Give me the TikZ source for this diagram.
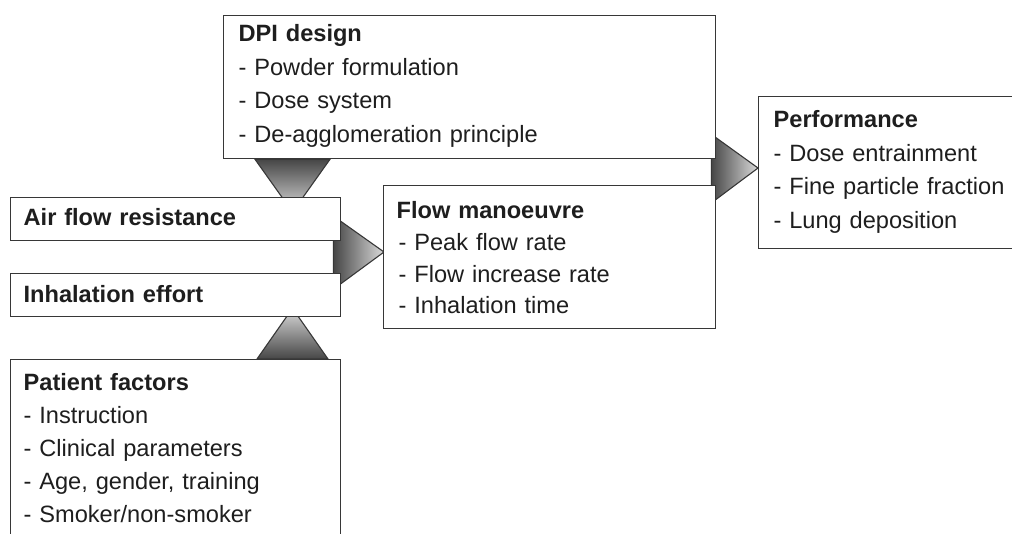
\documentclass[tikz,border=0pt]{standalone}
\usepackage{fontspec}
\setmainfont{Liberation Sans}
\usetikzlibrary{backgrounds, calc}
\definecolor{boxline}{RGB}{55,55,55}
\definecolor{inkgray}{RGB}{30,30,30}
\definecolor{funneldark}{RGB}{70,70,70}
\definecolor{funnellight}{RGB}{218,218,218}
\tikzset{
    % white text panel, outlined, text hung from its top left corner
    panel/.style={draw=boxline, line width=0.65pt, fill=white, anchor=north west,
        align=left, inner xsep=6.5pt, inner ysep=0pt, text=inkgray},
    % shaded triangle, dark at its base and light at its tip
    funnel/.style={draw=boxline, line width=0.55pt},
}
\newcommand{\panelfont}[1]{\fontsize{11.8pt}{#1}\selectfont}

\begin{document}
\begin{tikzpicture}[x=0.5pt, y=-0.5pt]
    \useasboundingbox (0,0) rectangle (1012,534);
    \clip (0,0) rectangle (1012,534);

    % ===== panels =====
    \node[panel, inner xsep=7.5pt, text width=231pt, text height=13pt, text depth=58.5pt,
          font=\panelfont{16.75pt}] (dpi) at (223,15)
        {\textbf{DPI design}\\- Powder formulation\\- Dose system\\- De-agglomeration principle};

    \node[panel, text width=152pt, text height=14pt, text depth=7.5pt,
          font=\panelfont{16pt}] (air) at (10,197) {\textbf{Air flow resistance}};
    \node[panel, text width=152pt, text height=14.5pt, text depth=7pt,
          font=\panelfont{16pt}] (inhal) at (10,273) {\textbf{Inhalation effort}};

    \node[panel, text width=153pt, text height=16.5pt, text depth=55pt,
          font=\panelfont{15.85pt}] (flow) at (383,185)
        {\textbf{Flow manoeuvre}\\\hspace*{1pt}- Peak flow rate\\\hspace*{1pt}- Flow increase rate\\\hspace*{1pt}- Inhalation time};

    \node[panel, inner xsep=7.5pt, text width=121pt, text height=15.5pt, text depth=60.5pt,
          font=\panelfont{16.8pt}] (perf) at (758,96)
        {\textbf{Performance}\\- Dose entrainment\\- Fine particle fraction\\- Lung deposition};

    \node[panel, text width=152pt, text height=15.5pt, text depth=85pt,
          font=\panelfont{16.5pt}] (patient) at (10,359)
        {\textbf{Patient factors}\\- Instruction\\- Clinical parameters\\- Age, gender, training\\- Smoker/non-smoker};

    % ===== funnels (behind the panels) =====
    \begin{scope}[on background layer]
        % DPI design -> air flow resistance
        \draw[funnel, top color=funneldark, bottom color=funnellight]
            ($(dpi.south west)+(32,0)$) -- ($(dpi.south west)+(107,0)$)
            -- ($(air.north west)+(282.5,15)$) -- cycle;
        % air flow resistance / inhalation effort -> flow manoeuvre
        \draw[funnel, left color=funneldark, right color=funnellight]
            ($(air.north east)+(-8,19)$) -- ($(inhal.south east)+(-8,-28)$)
            -- ($(flow.north west)+(1,67)$) -- cycle;
        % patient factors -> inhalation effort
        \draw[funnel, bottom color=funneldark, top color=funnellight]
            ($(patient.north west)+(247,0)$) -- ($(patient.north west)+(318,0)$)
            -- ($(inhal.south west)+(282.5,-9)$) -- cycle;
        % DPI design / flow manoeuvre -> performance
        \draw[funnel, left color=funneldark, right color=funnellight]
            ($(dpi.south east)+(-5,-25)$) -- ($(flow.north east)+(-5,18)$)
            -- ($(perf.north west)+(0,72)$) -- cycle;
    \end{scope}

\end{tikzpicture}
\end{document}
